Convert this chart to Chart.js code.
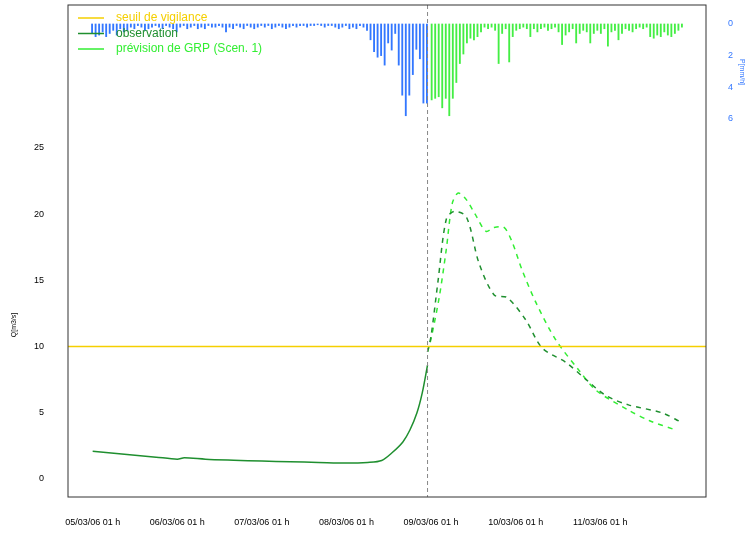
<!DOCTYPE html>
<html><head><meta charset="utf-8">
<script src="https://cdn.jsdelivr.net/npm/chart.js@4"></script>
<style>html,body{margin:0;padding:0;background:#fff}#w{width:749px;height:533px}</style>
</head><body><div id="w"><canvas id="c"></canvas></div>
<script>
// hours since 05/03/06 01 h
const tickHours=[0,24,48,72,96,120,144];
const tickLabels=["05/03/06 01 h","06/03/06 01 h","07/03/06 01 h","08/03/06 01 h","09/03/06 01 h","10/03/06 01 h","11/03/06 01 h"];
const obsH=[0,6,12,18,24,26,32,40,48,56,64,72,78,82,85,88,90,92,93.5,95];
const obsQ=[2.1,1.95,1.8,1.65,1.5,1.6,1.5,1.42,1.35,1.3,1.25,1.2,1.25,1.4,2.0,2.8,3.7,5.0,6.5,8.6];
const prevH=[95,96,98.3,100.3,102,103.7,106,108.5,111.6,113.9,116.7,119,121.8,125.8,131.4,138,142.8,152,158,165.4];
const prevQ=[9.6,10.6,13.7,17.3,20.8,21.6,21.1,20.0,18.7,19.0,19.0,17.9,15.8,13.3,10.5,8.2,6.7,5.2,4.4,3.7];
const prev2H=[95,96,98,100.3,102.5,106,109.6,113.9,117.6,122.9,127.5,134.3,140,145.6,152,161.5,166.9];
const prev2Q=[9.6,10.8,15.0,19.6,20.2,19.8,16.3,13.9,13.7,12.0,9.9,8.8,7.5,6.3,5.6,5.0,4.3];
const seuil=10;
const nowH=95;
// hourly rain (mm/h), observed h0..h95, forecast h96..h167
const rainObs=[0.6,0.8,0.7,0.5,0.8,0.6,0.4,0.7,0.3,0.5,0.4,0.2,0.3,0.1,0.2,0.4,0.3,0.2,0.1,0.2,0.3,0.1,0.2,0.3,0.5,0.2,0.1,0.3,0.2,0.1,0.3,0.2,0.3,0.1,0.2,0.2,0.1,0.2,0.5,0.2,0.3,0.1,0.2,0.3,0.1,0.2,0.3,0.2,0.1,0.2,0.1,0.3,0.2,0.1,0.2,0.3,0.2,0.1,0.2,0.1,0.1,0.2,0.1,0.1,0.05,0.1,0.2,0.1,0.1,0.2,0.3,0.2,0.1,0.3,0.2,0.3,0.1,0.2,0.4,1.0,1.75,2.1,2.0,2.6,1.2,1.65,0.6,2.6,4.5,5.8,4.5,3.2,1.6,2.2,5.0,5.0];
const rainPrev=[4.8,4.7,4.6,5.3,4.7,5.8,4.7,3.7,2.5,1.9,1.2,0.9,1.0,0.8,0.5,0.2,0.3,0.2,0.4,2.5,0.6,0.3,2.4,0.8,0.4,0.3,0.2,0.3,0.8,0.3,0.5,0.3,0.2,0.4,0.3,0.2,0.5,1.3,0.7,0.5,0.3,1.2,0.6,0.4,0.5,1.2,0.6,0.4,0.6,0.3,1.4,0.5,0.4,1.0,0.6,0.3,0.4,0.5,0.3,0.2,0.3,0.2,0.8,0.9,0.7,0.8,0.5,0.7,0.8,0.6,0.4,0.2];

const pts=(h,v)=>h.map((x,i)=>({x,y:v[i]}));
const rO=rainObs.map((v,i)=>({x:i,y:v}));
const rP=rainPrev.map((v,i)=>({x:96+i,y:v}));
const overlay={id:'ov',afterDatasetsDraw(ch){
  const c=ch.ctx,a=ch.chartArea,x=ch.scales.x;
  const top=a.top;
  c.save();
  c.strokeStyle='#888';c.setLineDash([4,3]);c.lineWidth=1;
  const px=x.getPixelForValue(nowH);c.beginPath();c.moveTo(px,top);c.lineTo(px,a.bottom);c.stroke();
  c.setLineDash([]);
  c.strokeStyle='#333';c.strokeRect(a.left,top,a.right-a.left,a.bottom-top);
  const items=[['seuil de vigilance','#f5cf00'],['observation','#1f8f2f'],['prévision de GRP (Scen. 1)','#33ee33']];
  c.font='12px "Liberation Sans",Arial';c.textBaseline='middle';
  items.forEach((it,i)=>{const yy=18+i*15.5;c.strokeStyle=it[1];c.lineWidth=1.5;c.beginPath();c.moveTo(78,yy);c.lineTo(104,yy);c.stroke();c.fillStyle=it[1];c.fillText(it[0],116,yy);});
  c.fillStyle='#000';c.font='7px "Liberation Sans",Arial';c.translate(14,325);c.rotate(-Math.PI/2);c.textAlign='center';c.fillText('Q[m3/s]',0,0);
  c.restore();
  c.save();c.fillStyle='#3377ff';c.font='7px "Liberation Sans",Arial';c.translate(740,72);c.rotate(Math.PI/2);c.textAlign='center';c.fillText('P[mm/h]',0,0);c.restore();
}};
const noPad=s=>{s.paddingTop=0;s.paddingBottom=0;};
new Chart(document.getElementById('c'),{
  type:'line',
  data:{datasets:[
    {label:'seuil',data:[{x:-7,y:seuil},{x:174,y:seuil}],borderColor:'#f5cf00',borderWidth:1.5,pointRadius:0,yAxisID:'y'},
    {label:'obs',data:pts(obsH,obsQ),borderColor:'#1f8f2f',borderWidth:1.5,pointRadius:0,tension:0.3,yAxisID:'y'},
    {label:'prev2',data:pts(prev2H,prev2Q),borderColor:'#1f8f2f',borderDash:[5,5],borderWidth:1.5,pointRadius:0,tension:0.3,yAxisID:'y'},
    {label:'prev',data:pts(prevH,prevQ),borderColor:'#33ee33',borderDash:[5,5],borderWidth:1.5,pointRadius:0,tension:0.3,yAxisID:'y'},
    {type:'bar',label:'pobs',data:rO,backgroundColor:'#3377ff',barThickness:1.2,yAxisID:'yr'},
    {type:'bar',label:'pprev',data:rP,backgroundColor:'#44ee44',barThickness:1.2,yAxisID:'yr'}
  ]},
  options:{responsive:true,maintainAspectRatio:false,animation:false,
    layout:{padding:{top:5,left:0,right:0,bottom:0}},
    plugins:{legend:{display:false},tooltip:{enabled:false}},
    scales:{
      x:{type:'linear',offset:false,min:-7,max:174,grid:{display:false,offset:false},border:{display:false},
        afterBuildTicks:s=>{s.ticks=tickHours.map(v=>({value:v}));},
        afterFit:s=>{s.height=36;s.paddingLeft=0;s.paddingRight=0;},
        ticks:{maxRotation:0,autoSkip:false,padding:12,color:'#000',font:{size:9,family:'Liberation Sans'},callback:v=>tickLabels[tickHours.indexOf(v)]}},
      y:{min:-1.36,max:35.8,position:'left',grid:{display:false},border:{display:false},
        afterBuildTicks:s=>{s.ticks=[0,5,10,15,20,25].map(v=>({value:v}));},
        afterFit:s=>{s.width=68;noPad(s);},
        ticks:{color:'#000',font:{size:9,family:'Liberation Sans'},padding:16}},
      yr:{min:-1.2,max:29.9,reverse:true,position:'right',grid:{display:false},border:{display:false},
        afterBuildTicks:s=>{s.ticks=[0,2,4,6].map(v=>({value:v}));},
        afterFit:s=>{s.width=43;noPad(s);},
        ticks:{color:'#3377ff',font:{size:9,family:'Liberation Sans'},padding:14}}
    }},
  plugins:[overlay]
});
</script></body></html>
